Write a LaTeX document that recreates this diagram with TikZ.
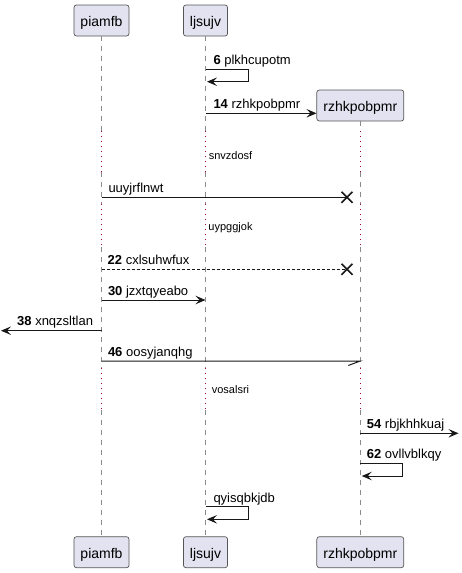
\documentclass[tikz,border=0pt]{standalone}
\usepackage{fontspec}
\setmainfont{Liberation Sans}
\usetikzlibrary{arrows.meta}
\definecolor{pfill}{HTML}{E2E2F0}
\definecolor{pline}{HTML}{181818}
\definecolor{pborder}{HTML}{555555}
\definecolor{dly}{HTML}{A80036}
\definecolor{lifec}{HTML}{8A8A8A}
\tikzset{
 part/.style={draw=pborder, fill=pfill, rounded corners=2.5pt, line width=0.7pt,
   minimum height=31pt, inner xsep=6.5pt, inner ysep=0pt, text height=12pt, text depth=0pt,
   font=\fontsize{14}{16}\selectfont},
 life/.style={draw=lifec, line width=0.8pt, dash pattern=on 5pt off 5pt},
 dlyline/.style={draw=dly, line width=0.9pt, dash pattern=on 1pt off 4pt},
 msg/.style={draw=pline, line width=1pt},
 arr/.style={msg, -{Stealth[length=10pt,width=8.5pt,inset=4pt]}},
 lbl/.style={anchor=base west, inner sep=0pt, font=\fontsize{13}{15}\selectfont},
 dlbl/.style={anchor=base, inner sep=0pt, font=\fontsize{11}{13}\selectfont},
 xmark/.style={draw=pline, line width=1.6pt},
}
\begin{document}
\begin{tikzpicture}[x=1pt,y=-1pt]
\useasboundingbox (0,0) rectangle (461,573);
% participants
\node[part] (topA) at (101.5,20.5) {piamfb};
\node[part] (topB) at (205.5,20.5) {ljsujv};
\node[part] (topC) at (360.3,105.5) {rzhkpobpmr};
\node[part] (botA) at (101.5,552.2) {piamfb};
\node[part] (botB) at (205.5,552.2) {ljsujv};
\node[part] (botC) at (360.3,552.2) {rzhkpobpmr};
% lifelines
\foreach \p in {A,B,C}{
  \draw[life] (top\p.south) -- (top\p.south |- 0,131);
  \foreach \ya/\yb/\st in {131/172/dlyline,172/204/life,204/247/dlyline,247/368/life,368/410/dlyline}{
    \draw[\st] (top\p.south |- 0,\ya) -- (top\p.south |- 0,\yb);
  }
  \draw[life] (top\p.south |- 0,410) -- (bot\p.north);
}
% 6 self message
\coordinate (m1a) at (topB.south |- 0,69.3);
\coordinate (m1b) at (topB.south |- 0,81.7);
\draw[arr, shorten >=1.5pt] (m1a) -- ++(42.8,0) |- (m1b);
\node[lbl] (l1) at (213.3,64.8) {\textbf{6} plkhcupotm};
% 14 create
\draw[arr] (topB.south |- 0,113.3) -- (topC.west |- 0,113.3);
\node[lbl] (l2) at (213.3,108.6) {\textbf{14} rzhkpobpmr};
% delay 1
\node[dlbl] (d1) at (230.5,159) {snvzdosf};
% uuyjrflnwt
\coordinate (x1) at (347,197.3);
\draw[msg] (topA.south |- 0,197.3) -- (x1);
\draw[xmark] (x1) +(-5.5,-5.5) -- +(5.5,5.5) (x1) +(-5.5,5.5) -- +(5.5,-5.5);
\node[lbl] (l3) at (108.3,192.8) {uuyjrflnwt};
% delay 2
\node[dlbl] (d2) at (230.5,230) {uypggjok};
% 22 dashed
\coordinate (x2) at (347,269.3);
\draw[msg, line width=0.8pt, dash pattern=on 3pt off 2pt] (topA.south |- 0,269.3) -- (x2);
\draw[xmark] (x2) +(-5.5,-5.5) -- +(5.5,5.5) (x2) +(-5.5,5.5) -- +(5.5,-5.5);
\node[lbl] (l4) at (107.5,264.6) {\textbf{22} cxlsuhwfux};
% 30
\draw[arr] (topA.south |- 0,300) -- (topB.south |- 0,300);
\node[lbl] (l5) at (107.8,295.2) {\textbf{30} jzxtqyeabo};
% 38 lost leftwards
\coordinate (lost) at (1,330.7);
\draw[arr] (topA.south |- 0,330.7) -- (lost);
\node[lbl] (l6) at (17,325.9) {\textbf{38} xnqzsltlan};
% 46 half arrow
\draw[msg] (topA.south |- 0,361) -- (topC.south |- 0,361) -- ++(-12,4.5);
\node[lbl] (l7) at (107.8,356.2) {\textbf{46} oosyjanqhg};
% delay 3
\node[dlbl] (d3) at (230.5,393.3) {vosalsri};
% 54 outgoing right
\coordinate (out) at (458.5,433.3);
\draw[arr] (topC.south |- 0,433.3) -- (out);
\node[lbl] (l8) at (366.7,428.5) {\textbf{54} rbjkhhkuaj};
% 62 self on C
\coordinate (m9a) at (topC.south |- 0,463.3);
\coordinate (m9b) at (topC.south |- 0,476);
\draw[arr, shorten >=1.5pt] (m9a) -- ++(42,0) |- (m9b);
\node[lbl] (l9) at (366.7,458.6) {\textbf{62} ovllvblkqy};
% qyisqbkjdb self on B
\coordinate (m10a) at (topB.south |- 0,506.7);
\coordinate (m10b) at (topB.south |- 0,519.3);
\draw[arr, shorten >=1.5pt] (m10a) -- ++(42.8,0) |- (m10b);
\node[lbl] (l10) at (213.3,502) {qyisqbkjdb};
\end{tikzpicture}
\end{document}
